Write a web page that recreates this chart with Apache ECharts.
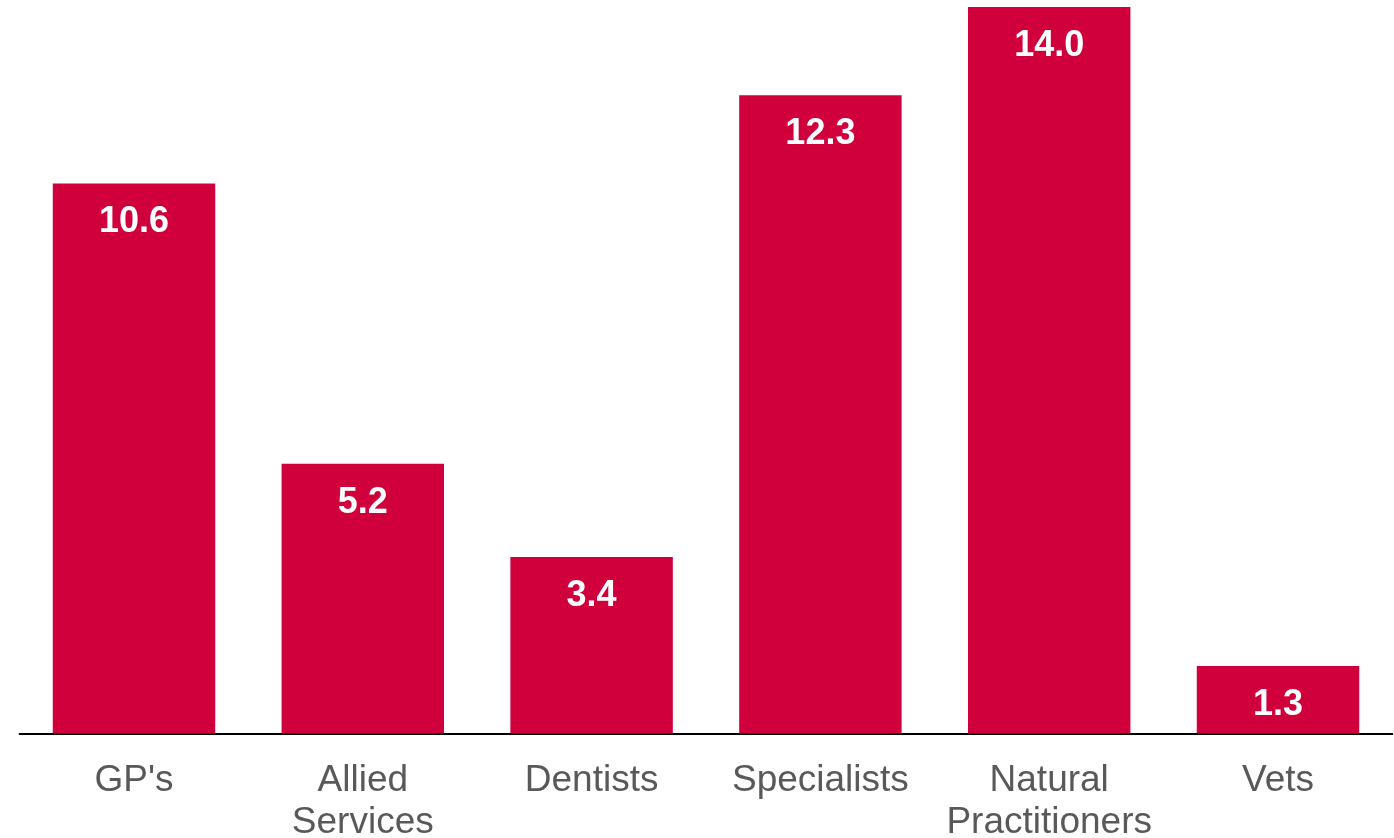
<!DOCTYPE html>
<html>
<head>
<meta charset="utf-8">
<script src="https://cdn.jsdelivr.net/npm/echarts@6/dist/echarts.min.js"></script>
<style>html,body{margin:0;padding:0;background:#fff}#c{width:1394px;height:838px}</style>
</head>
<body>
<div id="c"></div>
<script>
const categories = ["GP's", "Allied\nServices", "Dentists", "Specialists", "Natural\nPractitioners", "Vets"];
const values = [10.6, 5.2, 3.4, 12.3, 14.0, 1.3];

const chart = echarts.init(document.getElementById('c'), null, {renderer: 'canvas'});
chart.setOption({
  animation: false,
  backgroundColor: '#ffffff',
  grid: {left: 19.6, right: 1.6, top: 7, bottom: 104.5, containLabel: false, outerBoundsMode: 'none'},
  xAxis: {
    type: 'category',
    data: categories,
    axisLine: {lineStyle: {color: '#000000', width: 2}},
    axisTick: {show: false},
    axisLabel: {
      color: '#595959', fontSize: 37, fontFamily: 'Liberation Sans, Arial, sans-serif',
      lineHeight: 42, margin: 26, interval: 0, verticalAlign: 'top'
    }
  },
  yAxis: {type: 'value', min: 0, max: 14, show: false, splitLine: {show: false}},
  series: [{
    type: 'bar',
    data: values,
    barWidth: '71%',
    itemStyle: {color: '#D0003C'},
    label: {
      show: true, position: 'insideTop', distance: 21,
      color: '#ffffff', fontSize: 36, fontWeight: 'bold',
      fontFamily: 'Liberation Sans, Arial, sans-serif',
      formatter: p => p.value.toFixed(1)
    }
  }]
});
</script>
</body>
</html>
